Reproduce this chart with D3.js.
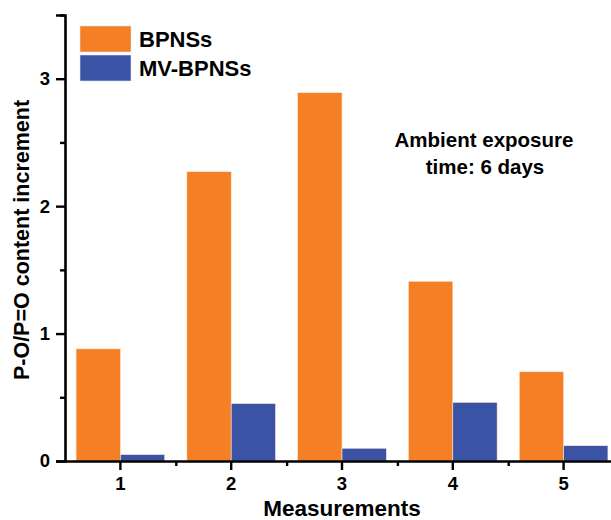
<!DOCTYPE html>
<html>
<head>
<meta charset="utf-8">
<script src="https://cdn.jsdelivr.net/npm/d3@7"></script>
<style>
  body { margin: 0; background: #fff; }
  text { font-family: "Liberation Sans", Arial, sans-serif; font-weight: bold; }
</style>
</head>
<body>
<div id="chart"></div>
<script>
// data
const measurements = ['1', '2', '3', '4', '5'];
const seriesNames = ['BPNSs', 'MV-BPNSs'];
const bpnss = [0.88, 2.27, 2.89, 1.41, 0.70];
const mvBpnss = [0.05, 0.45, 0.10, 0.46, 0.12];
const yTicks = [0, 1, 2, 3];
const yMinorTicks = [0.5, 1.5, 2.5, 3.5];

const colors = ['#f47f24', '#3a53a4'];

const svgWidth = 611, svgHeight = 520;
const margin = { top: 15, right: -8, bottom: 59, left: 65 };
const chartWidth = svgWidth - margin.left - margin.right;
const chartHeight = svgHeight - margin.top - margin.bottom;

const svg = d3.select('#chart').append('svg')
    .attr('width', svgWidth)
    .attr('height', svgHeight);

const chartGroup = svg.append('g')
    .attr('transform', `translate(${margin.left}, ${margin.top})`);

const table = measurements.map((m, i) => ({ m, values: [bpnss[i], mvBpnss[i]] }));

const xScale = d3.scaleBand(measurements, [0, chartWidth]).paddingInner(0.2).paddingOuter(0.1);
const xSub = d3.scaleBand(seriesNames, [0, xScale.bandwidth()]);
const yScale = d3.scaleLinear([0, 3.5], [chartHeight, 0]);

// bars
const groups = chartGroup.selectAll('g.grp')
    .data(table)
    .enter()
    .append('g')
    .attr('class', 'grp')
    .attr('transform', d => `translate(${xScale(d.m)}, 0)`);

groups.selectAll('rect')
    .data(d => d.values.map((v, j) => ({ v, s: seriesNames[j], j })))
    .enter()
    .append('rect')
    .attr('x', d => xSub(d.s))
    .attr('y', d => yScale(d.v))
    .attr('width', xSub.bandwidth())
    .attr('height', d => chartHeight - yScale(d.v))
    .attr('fill', d => colors[d.j])
    .attr('stroke', '#fbe3d0')
    .attr('stroke-width', 0.6);

// y axis
chartGroup.append('g')
    .call(d3.axisLeft(yScale).tickValues(yTicks).tickFormat(d3.format('d')).tickSize(9).tickPadding(6));
chartGroup.append('g')
    .call(d3.axisLeft(yScale).tickValues(yMinorTicks).tickFormat('').tickSize(5))
    .select('.domain').remove();

// x axis
const xCenters = measurements.map(m => xScale(m) + xScale.bandwidth() / 2);
const xLin = d3.scaleLinear([0, chartWidth], [0, chartWidth]);
chartGroup.append('g')
    .attr('transform', `translate(0, ${chartHeight})`)
    .call(d3.axisBottom(xScale).tickSize(9).tickPadding(7).tickSizeOuter(0));
const xMinor = xCenters.slice(0, -1).map((c, i) => (c + xCenters[i + 1]) / 2);
chartGroup.append('g')
    .attr('transform', `translate(0, ${chartHeight})`)
    .call(d3.axisBottom(xLin).tickValues(xMinor).tickFormat('').tickSize(5))
    .select('.domain').remove();

chartGroup.selectAll('.domain').attr('stroke-width', 2.6).attr('stroke', '#000');
chartGroup.selectAll('.tick line').attr('stroke-width', 2.4).attr('stroke', '#000');
chartGroup.selectAll('.tick text').style('font-size', '18.5px').attr('fill', '#000');

// axis titles
svg.append('text')
    .attr('x', margin.left + xCenters[2])
    .attr('y', 516)
    .attr('text-anchor', 'middle')
    .style('font-size', '22.5px')
    .text('Measurements');

svg.append('text')
    .attr('transform', 'translate(29, 240) rotate(-90)')
    .attr('text-anchor', 'middle')
    .style('font-size', '21.5px')
    .text('P-O/P=O content increment');

// legend
const legend = chartGroup.append('g').attr('transform', 'translate(15, 11)');
seriesNames.forEach((name, i) => {
    const row = legend.append('g').attr('transform', `translate(0, ${i * 29})`);
    row.append('rect')
        .attr('width', 51).attr('height', 26)
        .attr('fill', colors[i])
        .attr('stroke', '#dde3f4').attr('stroke-width', 0.6);
    row.append('text')
        .attr('x', 59).attr('y', 20.5)
        .style('font-size', '22px')
        .text(name);
});

// annotation
const note = svg.append('text')
    .attr('text-anchor', 'middle')
    .style('font-size', '20.5px');
note.append('tspan').attr('x', 484).attr('y', 147).text('Ambient exposure');
note.append('tspan').attr('x', 485).attr('y', 174).text('time: 6 days');
</script>
</body>
</html>
